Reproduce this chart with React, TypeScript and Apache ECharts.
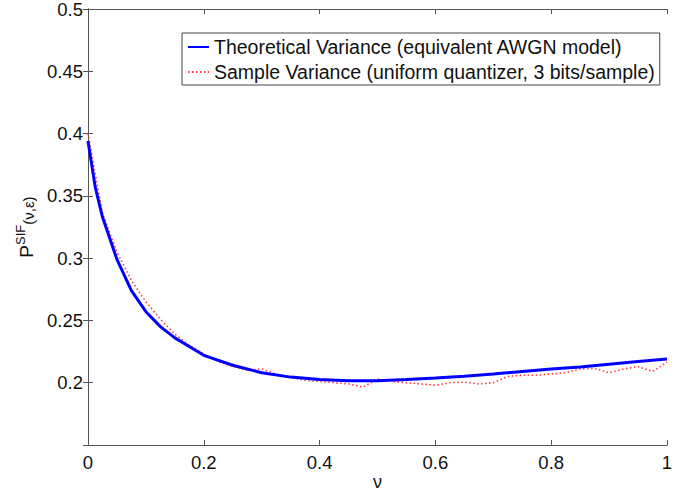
import React, { useEffect, useRef } from "react";
import * as echarts from "echarts";

const theoNu = [0, 0.0125, 0.025, 0.05, 0.075, 0.1, 0.125, 0.15, 0.2, 0.25, 0.3, 0.35, 0.4, 0.45, 0.5, 0.55, 0.6, 0.65, 0.7, 0.75, 0.8, 0.85, 0.9, 0.95, 1];
const theoVal = [0.394, 0.357, 0.333, 0.299, 0.274, 0.257, 0.245, 0.236, 0.222, 0.214, 0.208, 0.2045, 0.2025, 0.2015, 0.2015, 0.2025, 0.2038, 0.2052, 0.207, 0.209, 0.211, 0.2126, 0.2148, 0.217, 0.219];

const sampleNu = [0, 0.025, 0.05, 0.075, 0.1, 0.125, 0.15, 0.175, 0.2, 0.225, 0.25, 0.275, 0.3, 0.325, 0.35, 0.375, 0.4, 0.425, 0.45, 0.475, 0.5, 0.525, 0.55, 0.575, 0.6, 0.625, 0.65, 0.675, 0.7, 0.725, 0.75, 0.775, 0.8, 0.825, 0.85, 0.875, 0.9, 0.925, 0.95, 0.975, 1];
const sampleVal = [0.4, 0.336, 0.305, 0.282, 0.265, 0.251, 0.239, 0.23, 0.223, 0.217, 0.213, 0.21, 0.211, 0.207, 0.204, 0.202, 0.201, 0.2, 0.199, 0.1965, 0.203, 0.201, 0.2, 0.199, 0.198, 0.2, 0.2005, 0.199, 0.2, 0.205, 0.206, 0.206, 0.207, 0.208, 0.211, 0.2115, 0.208, 0.211, 0.213, 0.209, 0.2165];

const xTicks = [0, 0.2, 0.4, 0.6, 0.8, 1];
const yTickLabels = ["0.2", "0.25", "0.3", "0.35", "0.4", "0.45", "0.5"];

const seriesNames = [
  "Theoretical Variance (equivalent AWGN model)",
  "Sample Variance (uniform quantizer, 3 bits/sample)",
];

const FONT = "'Liberation Sans', Arial, Helvetica, sans-serif";

export default function App() {
  const ref = useRef<HTMLDivElement>(null);
  useEffect(() => {
    if (!ref.current) return;
    const chart = echarts.init(ref.current, undefined, { renderer: "svg" });
    const axisLine = { show: true, lineStyle: { color: "#555", width: 1 } };
    const fmtY = (v: number) => {
      const s = String(Math.round(v * 100) / 100);
      return yTickLabels.includes(s) ? s : "";
    };
    chart.setOption({
      animation: false,
      backgroundColor: "#fff",
      textStyle: { fontFamily: FONT },
      grid: { left: 88, right: 17, top: 9, bottom: 46, containLabel: false, outerBoundsMode: "none" },
      legend: {
        orient: "vertical",
        left: 182,
        top: 33,
        padding: [4, 5, 3, 5],
        itemGap: 5,
        itemWidth: 21,
        itemHeight: 14,
        borderColor: "#444",
        borderWidth: 1,
        borderRadius: 0,
        backgroundColor: "#fff",
        itemStyle: { opacity: 0 },
        textStyle: { fontSize: 19.5, color: "#111", fontFamily: FONT },
        data: seriesNames,
      },
      xAxis: [
        {
          type: "value",
          min: 0,
          max: 1,
          interval: 0.2,
          axisLine,
          axisTick: { inside: true, length: 5, lineStyle: { color: "#555" } },
          splitLine: { show: false },
          axisLabel: {
            fontSize: 18.5,
            color: "#111",
            margin: 8,
            fontFamily: FONT,
            formatter: (v: number) => {
              const r = Math.round(v * 10) / 10;
              return xTicks.includes(r) ? String(r) : "";
            },
          },
          name: "ν",
          nameLocation: "middle",
          nameGap: 28,
          nameMoveOverlap: false,
          nameTextStyle: { fontSize: 18, lineHeight: 18, color: "#111", fontFamily: FONT },
        },
        {
          type: "value",
          position: "top",
          min: 0,
          max: 1,
          interval: 0.2,
          axisLine,
          axisTick: { inside: true, length: 5, lineStyle: { color: "#555" } },
          axisLabel: { show: false },
          splitLine: { show: false },
        },
      ],
      yAxis: [
        {
          type: "value",
          min: 0.15,
          max: 0.5,
          interval: 0.05,
          axisLine,
          axisTick: { inside: true, length: 5, lineStyle: { color: "#555" } },
          splitLine: { show: false },
          axisLabel: { fontSize: 18.5, color: "#111", margin: 5, fontFamily: FONT, formatter: fmtY },
          name: "{p|P}{sup|SIF}{sub|(ν,ε)}",
          nameLocation: "middle",
          nameRotate: 90,
          nameGap: 52,
          nameTextStyle: {
            color: "#111",
            fontFamily: FONT,
            rich: {
              p: { fontSize: 19, lineHeight: 22, verticalAlign: "bottom", color: "#111", fontFamily: FONT },
              sup: { fontSize: 13, lineHeight: 14, verticalAlign: "top", color: "#111", fontFamily: FONT },
              sub: { fontSize: 15, lineHeight: 21, verticalAlign: "bottom", color: "#111", fontFamily: FONT },
            },
          },
        },
        {
          type: "value",
          position: "right",
          min: 0.15,
          max: 0.5,
          interval: 0.05,
          axisLine,
          axisTick: { inside: true, length: 5, lineStyle: { color: "#555" } },
          axisLabel: { show: false },
          splitLine: { show: false },
        },
      ],
      series: [
        {
          name: seriesNames[0],
          type: "line",
          showSymbol: false,
          symbol: "none",
          data: theoNu.map((x, i) => [x, theoVal[i]]),
          lineStyle: { color: "#0000ff", width: 3 },
          itemStyle: { color: "#0000ff" },
          z: 3,
        },
        {
          name: seriesNames[1],
          type: "line",
          showSymbol: false,
          symbol: "none",
          data: sampleNu.map((x, i) => [x, sampleVal[i]]),
          lineStyle: { color: "#ff3b3b", width: 1.6, type: [1.5, 2.5] },
          itemStyle: { color: "#ff3b3b" },
          z: 2,
        },
      ],
    });
    return () => chart.dispose();
  }, []);
  return <div ref={ref} style={{ width: 684, height: 491, position: "absolute", left: 0, top: 0 }} />;
}
